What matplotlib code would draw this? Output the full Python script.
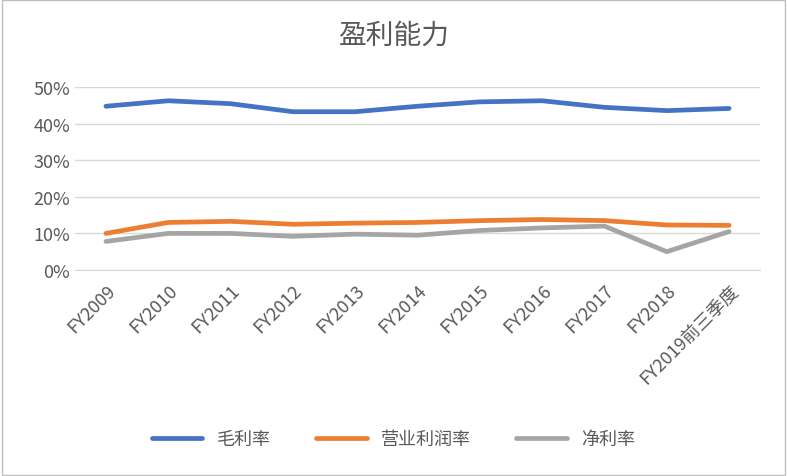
import matplotlib
matplotlib.use("Agg")
import matplotlib.pyplot as plt
from matplotlib.ticker import PercentFormatter

plt.rcParams['font.family'] = ['Noto Sans CJK SC', 'DejaVu Sans']

categories = ["FY2009","FY2010","FY2011","FY2012","FY2013","FY2014","FY2015","FY2016","FY2017","FY2018","FY2019前三季度"]
gross = [44.8, 46.3, 45.5, 43.3, 43.3, 44.8, 46.0, 46.3, 44.5, 43.6, 44.2]
operating = [10.0, 13.0, 13.3, 12.5, 12.8, 13.0, 13.5, 13.8, 13.5, 12.3, 12.2]
net = [7.8, 10.0, 10.0, 9.2, 9.8, 9.5, 10.8, 11.5, 12.0, 5.0, 10.5]
series_names = ["毛利率", "营业利润率", "净利率"]

fig = plt.figure(figsize=(7.87, 4.77), dpi=100)
ax = fig.add_axes([0.095, 0.432, 0.871, 0.383])
x = range(len(categories))
colors = ["#4472C4", "#ED7D31", "#A5A5A5"]
for vals, name, c in zip([gross, operating, net], series_names, colors):
    ax.plot(x, vals, color=c, lw=3.4, label=name, solid_capstyle='round')
ax.set_ylim(0, 50)
ax.set_yticks(range(0, 51, 10))
ax.yaxis.set_major_formatter(PercentFormatter(decimals=0))
ax.set_xlim(-0.5, len(categories) - 0.5)
ax.set_xticks(list(x))
ax.set_xticklabels(categories, rotation=45, ha='right', rotation_mode='anchor')
ax.grid(axis='y', color='#D9D9D9', lw=1)
ax.set_axisbelow(True)
for s in ['top', 'right', 'left']:
    ax.spines[s].set_visible(False)
ax.spines['bottom'].set_color('#D9D9D9')
ax.tick_params(axis='both', length=0, labelsize=13, labelcolor='#595959')
ax.tick_params(axis='x', pad=8)
fig.text(0.5, 0.925, "盈利能力", ha='center', va='center', fontsize=20, color='#595959')
fig.legend(loc='center', bbox_to_anchor=(0.5, 0.077), ncol=3, frameon=False,
           fontsize=13, labelcolor='#595959', handlelength=2.8, columnspacing=2.5)
fig.patches.append(plt.Rectangle((0.002, 0.002), 0.996, 0.996, transform=fig.transFigure,
                                 fill=False, edgecolor='#BFBFBF', lw=1))
fig.savefig("out.png", dpi=100)
